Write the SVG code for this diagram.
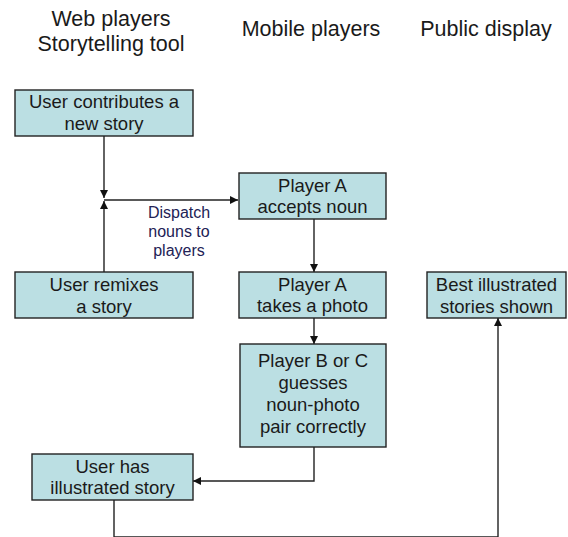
<svg xmlns="http://www.w3.org/2000/svg" width="568" height="537" viewBox="0 0 568 537">
  <defs>
    <marker id="arrow" viewBox="0 0 10 10" refX="10" refY="5" markerWidth="8" markerHeight="8" markerUnits="userSpaceOnUse" orient="auto">
      <path d="M0,0 L10,5 L0,10 z" fill="#111"/>
    </marker>
    <style>
      .box { fill: #bbdfe3; stroke: #222; stroke-width: 1.4; }
      .label { font-family: "Liberation Sans", Arial, sans-serif; font-size: 18.5px; fill: #1a1a1a; text-anchor: middle; }
      .head { font-family: "Liberation Sans", Arial, sans-serif; font-size: 21.5px; fill: #1a1a1a; text-anchor: middle; }
      .edge-label { font-family: "Liberation Sans", Arial, sans-serif; font-size: 16px; fill: #222255; text-anchor: middle; }
      .wire { fill: none; stroke: #222; stroke-width: 1.4; }
    </style>
  </defs>
  <rect width="568" height="537" fill="#fff"/>

  <!-- column headings -->
  <g id="headings">
    <text class="head" x="111" y="26">Web players</text>
    <text class="head" x="111" y="51">Storytelling tool</text>
    <text class="head" x="311" y="36">Mobile players</text>
    <text class="head" x="486" y="36">Public display</text>
  </g>

  <!-- connectors -->
  <g id="connectors">
    <path class="wire" d="M104,136 V198" marker-end="url(#arrow)"/>
    <path class="wire" d="M104,272 V201" marker-end="url(#arrow)"/>
    <path class="wire" d="M104,200 H238" marker-end="url(#arrow)"/>
    <path class="wire" d="M314,219 V272" marker-end="url(#arrow)"/>
    <path class="wire" d="M314,318 V344" marker-end="url(#arrow)"/>
    <path class="wire" d="M314,447 V481 H193" marker-end="url(#arrow)"/>
    <path class="wire" d="M114,500 V537 H498 V318" marker-end="url(#arrow)"/>
    <text class="edge-label" x="179" y="218">Dispatch</text>
    <text class="edge-label" x="179" y="237">nouns to</text>
    <text class="edge-label" x="179" y="256">players</text>
  </g>

  <g id="contribute">
    <rect class="box" x="15" y="90" width="178" height="46"/>
    <text class="label" x="104" y="108">User contributes a</text>
    <text class="label" x="104" y="130">new story</text>
  </g>

  <g id="remix">
    <rect class="box" x="15" y="272" width="178" height="46"/>
    <text class="label" x="104" y="291">User remixes</text>
    <text class="label" x="104" y="313">a story</text>
  </g>

  <g id="accept">
    <rect class="box" x="239" y="173" width="147" height="46"/>
    <text class="label" x="312.5" y="192">Player A</text>
    <text class="label" x="312.5" y="213">accepts noun</text>
  </g>

  <g id="photo">
    <rect class="box" x="239" y="272" width="147" height="46"/>
    <text class="label" x="312.5" y="291">Player A</text>
    <text class="label" x="312.5" y="312">takes a photo</text>
  </g>

  <g id="guess">
    <rect class="box" x="240" y="344" width="146" height="103"/>
    <text class="label" x="313" y="367">Player B or C</text>
    <text class="label" x="313" y="389">guesses</text>
    <text class="label" x="313" y="411">noun-photo</text>
    <text class="label" x="313" y="433">pair correctly</text>
  </g>

  <g id="illustrated">
    <rect class="box" x="32" y="454" width="161" height="46"/>
    <text class="label" x="112.5" y="473">User has</text>
    <text class="label" x="112.5" y="494">illustrated story</text>
  </g>

  <g id="best">
    <rect class="box" x="427" y="272" width="139" height="46"/>
    <text class="label" x="496.5" y="291">Best illustrated</text>
    <text class="label" x="496.5" y="313">stories shown</text>
  </g>
</svg>
